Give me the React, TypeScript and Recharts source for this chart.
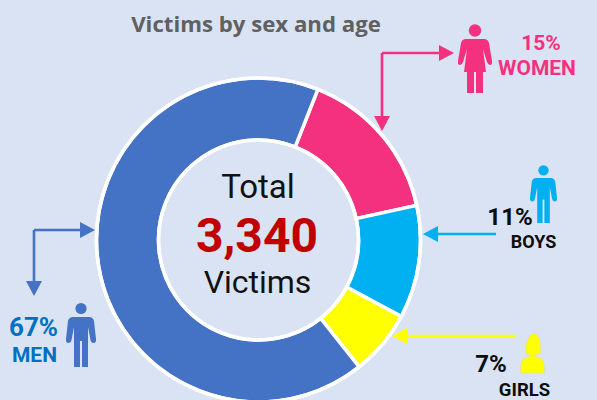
import { PieChart, Pie, Cell } from "recharts";

const categories = ["WOMEN", "BOYS", "GIRLS", "MEN"];
const shareLabels = ["15%", "11%", "7%", "67%"];
const sliceValues = [15.6, 11.25, 6.5, 66.65];
const colors = ["#F4317F", "#00B0F0", "#FFFF00", "#4472C4"];

const data = categories.map((name, i) => ({ name, value: sliceValues[i] }));

const MAN_PATH =
  "M-8,0 L8,0 Q12,0 13,4 L15,22 Q15.5,26 12.5,26 Q10,26 9.5,23 L7,10 L7,50 L1,50 L1,24 L-1,24 L-1,50 L-7,50 L-7,10 L-9.5,23 Q-10,26 -12.5,26 Q-15.5,26 -15,22 L-13,4 Q-12,0 -8,0 Z";
const WOMAN_PATH =
  "M-9,0 L9,0 Q13,0 14,4 L17,22 Q17.5,26 15,26 Q13,26 12,23 L8,10 L11,33 L8,33 L8,54 L1,54 L1,33 L-1,33 L-1,54 L-8,54 L-8,33 L-11,33 L-8,10 L-12,23 Q-13,26 -15,26 Q-17.5,26 -17,22 L-14,4 Q-13,0 -9,0 Z";

function Person({ x, y, scale, color, path, r }: { x: number; y: number; scale: number; color: string; path: string; r: number }) {
  return (
    <g transform={`translate(${x} ${y}) scale(${scale})`} fill={color}>
      <circle cx={0} cy={-8.5} r={r} />
      <path d={path} />
    </g>
  );
}

function Arrow({ points, color }: { points: string; color: string }) {
  const p = points.split(" ").map((s) => s.split(",").map(Number));
  const tip = p[p.length - 1];
  const prev = p[p.length - 2];
  const a = Math.atan2(tip[1] - prev[1], tip[0] - prev[0]);
  const bx = tip[0] - 15 * Math.cos(a);
  const by = tip[1] - 15 * Math.sin(a);
  const nx = -Math.sin(a) * 8;
  const ny = Math.cos(a) * 8;
  const line = p.slice(0, -1).map((q) => q.join(",")).join(" ") + ` ${bx},${by}`;
  return (
    <g>
      <polyline points={line} fill="none" stroke={color} strokeWidth={2.6} />
      <polygon points={`${tip[0]},${tip[1]} ${bx + nx},${by + ny} ${bx - nx},${by - ny}`} fill={color} />
    </g>
  );
}

const font = "Roboto, sans-serif";

export default function App() {
  return (
    <div style={{ position: "fixed", left: 0, top: 0, width: 597, height: 400, background: "#DAE3F3", overflow: "hidden" }}>
      <PieChart width={597} height={400} margin={{ top: 0, right: 0, bottom: 0, left: 0 }}>
        <Pie
          data={data}
          dataKey="value"
          cx={258.5}
          cy={240}
          innerRadius={100}
          outerRadius={162}
          startAngle={68.5}
          endAngle={-291.5}
          stroke="#FFFFFF"
          strokeWidth={3.5}
          isAnimationActive={false}
        >
          {data.map((d, i) => (
            <Cell key={d.name} fill={colors[i]} />
          ))}
        </Pie>
      </PieChart>
      <svg width={597} height={400} style={{ position: "absolute", left: 0, top: 0 }}>
        <circle cx={258.5} cy={240} r={162} fill="none" stroke="#FFFFFF" strokeWidth={3.5} />
        <circle cx={258.5} cy={240} r={100} fill="none" stroke="#FFFFFF" strokeWidth={3.5} />

        <text x={256} y={32} textAnchor="middle" fontFamily="'Open Sans', sans-serif" fontWeight={700} fontSize={22.2} fill="#606060">
          Victims by sex and age
        </text>

        <text x={258} y={198} textAnchor="middle" fontFamily={font} fontSize={33} fill="#111111">Total</text>
        <text x={257} y={252} textAnchor="middle" fontFamily={font} fontWeight={700} fontSize={48} fill="#C00000">3,340</text>
        <text x={257.5} y={293} textAnchor="middle" fontFamily={font} fontSize={32} fill="#111111">Victims</text>

        <Arrow points="382,53 382,131" color={colors[0]} />
        <Arrow points="382,53 454,53" color={colors[0]} />
        <Arrow points="496,234 423,234" color={colors[1]} />
        <Arrow points="515,336 392,336" color={colors[2]} />
        <Arrow points="34,230 34,296" color={colors[3]} />
        <Arrow points="34,230 95,230" color={colors[3]} />

        <Person x={475} y={39} scale={1} color={colors[0]} path={WOMAN_PATH} r={6.2} />
        <Person x={543.5} y={178} scale={0.9} color={colors[1]} path={MAN_PATH} r={5.8} />
        <Person x={81} y={317} scale={1} color={colors[3]} path={MAN_PATH} r={5.6} />

        <g fill={colors[2]} stroke="#D9D9C8" strokeWidth={0.6}>
          <path d="M526,354 Q524,340 532.5,333.5 Q540,333 540.5,345 L541,354 L537,354 L532.5,358 L528,354 Z" />
          <path d="M520.5,373 L520.5,365 Q521,357 532.5,355.5 Q544,357 544.5,365 L544.5,373 Z" />
        </g>

        <g fontFamily={font} fontWeight={700} textAnchor="middle">
          <text x={541} y={50} fontSize={21} fill={colors[0]}>{shareLabels[0]}</text>
          <text x={537} y={75} fontSize={21} fill={colors[0]}>{categories[0]}</text>
          <text x={510} y={225} fontSize={24} fill="#0D0D0D">{shareLabels[1]}</text>
          <text x={533.5} y={248} fontSize={18} fill="#0D0D0D">{categories[1]}</text>
          <text x={491} y={372} fontSize={24} fill="#0D0D0D">{shareLabels[2]}</text>
          <text x={524.5} y={396} fontSize={18.5} fill="#0D0D0D">{categories[2]}</text>
          <text x={33.5} y={336} fontSize={26} fill="#0070C0">{shareLabels[3]}</text>
          <text x={34.5} y={362} fontSize={21} fill="#0070C0">{categories[3]}</text>
        </g>
      </svg>
    </div>
  );
}
